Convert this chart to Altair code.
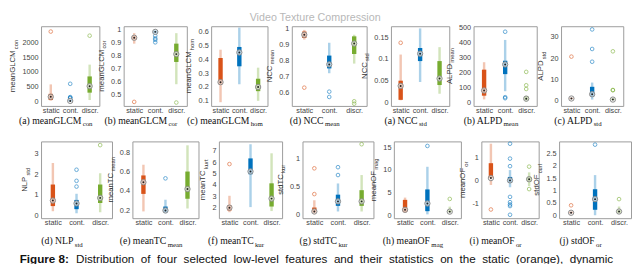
import altair as alt
import pandas as pd

GROUPS = ["static", "cont.", "discr."]
COLORS = ["#D95319", "#0072BD", "#77AC30"]
SANS = "Liberation Sans"
SERIF = "Liberation Serif"

# box summaries per group: [whisker low, q1, median, q3, whisker high]
glcm_con_box = [[30, 50, 160, 260, 580], [0, 5, 20, 50, 90], [50, 300, 520, 850, 1250]]
glcm_con_out = [[2370], [600, 150, 130, 110], [2230]]
glcm_cor_box = [[0.89, 0.92, 0.935, 0.95, 0.97], [0.96, 0.97, 0.98, 0.99, 1.0], [0.58, 0.75, 0.81, 0.89, 0.97]]
glcm_cor_out = [[0.445], [0.90, 0.92, 0.93, 0.95], [0.44]]
glcm_hom_box = [[0.09, 0.22, 0.235, 0.41, 0.47], [0.22, 0.35, 0.45, 0.49, 0.63], [0.10, 0.17, 0.20, 0.26, 0.34]]
glcm_hom_out = [[], [], []]
ncc_mean_box = [[0.93, 0.94, 0.96, 0.98, 0.99], [0.72, 0.75, 0.775, 0.83, 0.91], [0.78, 0.84, 0.905, 0.95, 0.96]]
ncc_mean_out = [[0.63], [0.605, 0.572], [0.545, 0.53]]
ncc_std_box = [[0.005, 0.006, 0.038, 0.05, 0.11], [0.047, 0.095, 0.112, 0.125, 0.17], [0.02, 0.04, 0.055, 0.095, 0.127]]
ncc_std_out = [[0.137], [], []]
alpd_mean_box = [[20, 45, 80, 220, 270], [75, 190, 255, 280, 420], [5, 15, 25, 40, 45]]
alpd_mean_out = [[], [475, 35, 28], [205, 115, 90]]
alpd_std_box = [[0.5, 0.8, 1.0, 1.3, 1.6], [0.5, 2.0, 3.0, 6.5, 8.5], [0.0, 0.3, 0.5, 1.0, 1.5]]
alpd_std_out = [[20.7], [33.5, 24.3, 18.3], [23.2, 5.0, 4.9]]

nlp_std_box = [[0.2, 0.45, 0.72, 1.5, 2.55], [0.1, 0.3, 0.58, 0.75, 1.05], [0.15, 0.6, 0.85, 1.5, 2.05]]
nlp_std_out = [[], [2.22, 1.68, 1.40], [3.42]]
tc_mean_box = [[0.19, 0.37, 0.49, 0.56, 0.67], [0.17, 0.18, 0.20, 0.24, 0.31], [0.22, 0.32, 0.42, 0.60, 0.87]]
tc_mean_out = [[], [0.53], []]
tc_kur_box = [[1.6, 1.75, 2.0, 2.2, 3.05], [2.05, 4.95, 5.2, 6.35, 7.6], [1.7, 2.1, 2.8, 4.15, 6.8]]
tc_kur_out = [[5.85], [], []]
std_tc_kur_box = [[0.0, 0.03, 0.05, 0.12, 0.25], [0.05, 0.15, 0.23, 0.35, 0.55], [0.05, 0.15, 0.23, 0.43, 0.70]]
std_tc_kur_out = [[0.82, 0.36], [0.84, 0.70], [1.25]]
of_mag_box = [[0.5, 0.7, 1.2, 3.4, 3.9], [0.2, 0.9, 2.6, 5.7, 10.7], [0.4, 0.7, 0.8, 1.1, 1.9]]
of_mag_out = [[], [15.3], [3.6]]
of_or_box = [[-0.2, 0.1, 0.1, 0.75, 1.6], [-0.3, -0.1, 0.0, 0.15, 0.45], [-0.25, -0.05, 0.05, 0.15, 0.35]]
of_or_out = [[-1.27], [1.6, 0.95, 0.62, -0.72, -0.95, -1.05, -1.12, -1.5], [0.6, -0.38]]
std_of_box = [[0.05, 0.08, 0.1, 0.14, 0.18], [0.0, 0.22, 0.65, 1.05, 1.62], [0.05, 0.1, 0.15, 0.2, 0.35]]
std_of_out = [[0.4], [2.85], [0.65]]

SUPTITLE = "Video Texture Compression"
FIG_LABEL = "Figure 8:"
FIG_WORDS = ["Distribution", "of", "four", "selected", "low-level", "features", "and", "their",
             "statistics", "on", "the", "static", "(orange),", "dynamic"]

# approximate glyph widths (per 1000 em) for centring text pieces
_LOW = "abcdefghijklmnopqrstuvwxyz"
_UP = "ABCDEFGHIJKLMNOPQRSTUVWXYZ"
SANS_W = dict(zip(_LOW, [556, 556, 500, 556, 556, 278, 556, 556, 222, 222, 500, 222, 833, 556, 556, 556, 556, 333, 500, 278, 556, 500, 722, 500, 500, 500]))
SANS_W.update(zip(_UP, [667, 667, 722, 722, 667, 611, 778, 722, 278, 500, 667, 556, 833, 722, 778, 667, 778, 722, 667, 611, 722, 667, 944, 667, 667, 611]))
SANS_W.update({c: 556 for c in "0123456789"})
SANS_W.update({".": 278, "-": 333, " ": 278, "(": 333, ")": 333, ",": 278, ":": 278})
SERIF_W = dict(zip(_LOW, [444, 500, 444, 500, 444, 333, 500, 500, 278, 278, 500, 278, 778, 500, 500, 500, 500, 333, 389, 278, 500, 500, 722, 500, 500, 444]))
SERIF_W.update(zip(_UP, [722, 667, 667, 722, 611, 556, 722, 722, 333, 389, 722, 611, 889, 722, 722, 556, 722, 667, 556, 611, 722, 722, 944, 722, 722, 611]))
SERIF_W.update({c: 500 for c in "0123456789"})
SERIF_W.update({".": 250, "-": 333, " ": 250, "(": 333, ")": 333})


def tw(s, table, size):
    return sum(table.get(c, 550) for c in s) * size / 1000.0


ONE = pd.DataFrame({"k": [0]})


def txt(text, x, y, size, font, align="left", angle=0, dx=0, dy=0, color="#222",
        weight="normal", baseline="alphabetic"):
    return alt.Chart(ONE).mark_text(
        text=text, align=align, baseline=baseline, angle=angle, dx=dx, dy=dy,
        fontSize=size, font=font, color=color, fontWeight=weight
    ).encode(x=alt.value(x), y=alt.value(y))


def anchor(x, y):
    # invisible point that fixes a panel's outer bound for the layout
    return alt.Chart(ONE).mark_point(size=1, opacity=0).encode(x=alt.value(x), y=alt.value(y))


def panel(box, out, ylab, ysub, cap, csub, domain, ticks, width, height, cap_off, extra=()):
    stats = pd.DataFrame({
        "g": GROUPS,
        "lo": [b[0] for b in box], "q1": [b[1] for b in box], "med": [b[2] for b in box],
        "q3": [b[3] for b in box], "hi": [b[4] for b in box],
    })
    og, ov = [], []
    for g, vals in zip(GROUPS, out):
        for v in vals:
            og.append(g)
            ov.append(v)
    outs = pd.DataFrame({"g": og, "v": ov})

    xaxis = alt.Axis(title=None, labelAngle=0, ticks=False, domain=False, labelFontSize=7.5,
                     labelColor="#444", labelPadding=1, labelFont=SANS)
    x = alt.X("g:N", scale=alt.Scale(type="point", domain=GROUPS, padding=0.5), axis=xaxis)
    yscale = alt.Scale(domain=domain, nice=False, zero=False)
    yaxis = alt.Axis(title=None, values=ticks, grid=False, ticks=False, domain=False,
                     labelExpr="replace(format(datum.value, '~g'), '\u2212', '-')",
                     labelFontSize=7.5, labelPadding=3, labelColor="#444", labelFont=SANS)
    color = alt.Color("g:N", scale=alt.Scale(domain=GROUPS, range=COLORS), legend=None)

    base = alt.Chart(stats)
    whisk = base.mark_rule(strokeWidth=2.5, opacity=0.33).encode(
        x=x, y=alt.Y("lo:Q", scale=yscale, axis=yaxis), y2="hi:Q", color=color)
    boxes = base.mark_rule(strokeWidth=4.5).encode(
        x=x, y=alt.Y("q1:Q", scale=yscale, axis=yaxis), y2="q3:Q", color=color)
    med_ring = base.mark_point(shape="circle", size=30, filled=True, fill="#f4f4f4",
                               fillOpacity=0.7, stroke="#8a8a8a", strokeWidth=1).encode(
        x=x, y=alt.Y("med:Q", scale=yscale, axis=yaxis))
    med_dot = base.mark_point(shape="circle", size=4, filled=True, color="#222", opacity=1).encode(
        x=x, y=alt.Y("med:Q", scale=yscale, axis=yaxis))
    outl = alt.Chart(outs).mark_point(shape="circle", size=14, filled=False, strokeWidth=1,
                                      opacity=0.6).encode(
        x=x, y=alt.Y("v:Q", scale=yscale, axis=yaxis), color=color)

    # y-axis title with subscript
    labw = max(tw("%g" % t, SANS_W, 7.5) for t in ticks)
    ax = -(labw + 10)
    wm = tw(ylab, SANS_W, 8)
    ws = tw(ysub, SANS_W, 6)
    shift = (wm - ws) / 2
    yt_main = txt(ylab, ax, height / 2, 8, SANS, align="right", angle=270, dx=shift - 0.6, color="#333")
    yt_sub = txt(ysub, ax, height / 2, 6, SANS, align="left", angle=270, dx=shift + 0.6, dy=2.5, color="#333")

    # sub-figure caption with subscript
    cx = width / 2 - 15
    cm = tw(cap, SERIF_W, 10)
    cs = tw(csub, SERIF_W, 7)
    cshift = (cm - cs) / 2
    c_main = txt(cap, cx, height + cap_off, 10, SERIF, align="right", dx=cshift - 0.6, color="#111")
    c_sub = txt(csub, cx, height + cap_off, 7, SERIF, align="left", dx=cshift + 0.8, dy=2.5, color="#111")

    layers = [whisk, boxes, outl, med_ring, med_dot, yt_main, yt_sub, c_main, c_sub] + list(extra)
    return alt.layer(*layers).properties(width=width, height=height)


H1, H2 = 82, 79
row1_specs = [
    (glcm_con_box, glcm_con_out, "meanGLCM", "con", "(a) meanGLCM", "con", [-150, 2550], [0, 500, 1000, 1500, 2000], 60),
    (glcm_cor_box, glcm_cor_out, "meanGLCM", "cor", "(b) meanGLCM", "cor", [0.414, 1.023], [0.5, 0.6, 0.7, 0.8, 0.9, 1], 65),
    (glcm_hom_box, glcm_hom_out, "meanGLCM", "hom", "(c) meanGLCM", "hom", [0.063, 0.64], [0.1, 0.2, 0.3, 0.4, 0.5, 0.6], 58),
    (ncc_mean_box, ncc_mean_out, "NCC", "mean", "(d) NCC", "mean", [0.516, 1.013], [0.6, 0.7, 0.8, 0.9, 1], 77),
    (ncc_std_box, ncc_std_out, "NCC", "std", "(a) NCC", "std", [-0.008, 0.175], [0, 0.05, 0.1, 0.15], 60),
    (alpd_mean_box, alpd_mean_out, "ALPD", "mean", "(b) ALPD", "mean", [-24, 512], [0, 100, 200, 300, 400, 500], 65),
    (alpd_std_box, alpd_std_out, "ALPD", "std", "(c) ALPD", "std", [-2.5, 35], [0, 10, 20, 30], 64),
]
row2_specs = [
    (nlp_std_box, nlp_std_out, "NLP", "std", "(d) NLP", "std", [-0.14, 3.6], [0, 1, 2, 3], 73),
    (tc_mean_box, tc_mean_out, "meanTC", "mean", "(e) meanTC", "mean", [0.12, 0.91], [0.2, 0.4, 0.6, 0.8], 68),
    (tc_kur_box, tc_kur_out, "meanTC", "kurt", "(f) meanTC", "kur", [1.07, 7.85], [2, 3, 4, 5, 6, 7], 65),
    (std_tc_kur_box, std_tc_kur_out, "stdTC", "kur", "(g) stdTC", "kur", [-0.07, 1.3], [0, 0.5, 1], 73),
    (of_mag_box, of_mag_out, "meanOF", "mag", "(h) meanOF", "mag", [-0.65, 16.3], [0, 5, 10, 15], 69),
    (of_or_box, of_or_out, "meanOF", "or", "(i) meanOF", "or", [-1.65, 1.7], [-1, 0, 1], 59),
    (std_of_box, std_of_out, "stdOF", "curl", "(j) stdOF", "or", [-0.12, 2.98], [0, 0.5, 1, 1.5, 2, 2.5], 74),
]

title_layer = txt(SUPTITLE, 24, -14, 11, SANS, align="center", baseline="top", color="#b8b8b8")
fig_bold = txt(FIG_LABEL, -22, H2 + 46, 12, SANS, weight="bold", color="#111")
fig_rest = txt(" \u00a0".join(FIG_WORDS), -22 + 58, H2 + 46, 12, SANS, color="#111")

p1 = []
for i, s in enumerate(row1_specs):
    extra = []
    if i == 0:
        extra = [anchor(-30, H1 / 2)]
    if i == 3:
        extra = [title_layer]
    p1.append(panel(*s, height=H1, cap_off=18.5, extra=extra))
p2 = []
for i, s in enumerate(row2_specs):
    extra = [fig_bold, fig_rest, anchor(-22, 0)] if i == 0 else []
    p2.append(panel(*s, height=H2, cap_off=27, extra=extra))

row1 = alt.hconcat(*p1, spacing=25, bounds="flush")
row2 = alt.hconcat(*p2, spacing=21, bounds="flush")

chart = alt.vconcat(row1, row2, spacing=10.5).properties(
    padding=0, background="white"
).configure_view(stroke="#9a9a9a", strokeWidth=1)

chart.save("out.html", embed_options={"renderer": "svg", "actions": False})
